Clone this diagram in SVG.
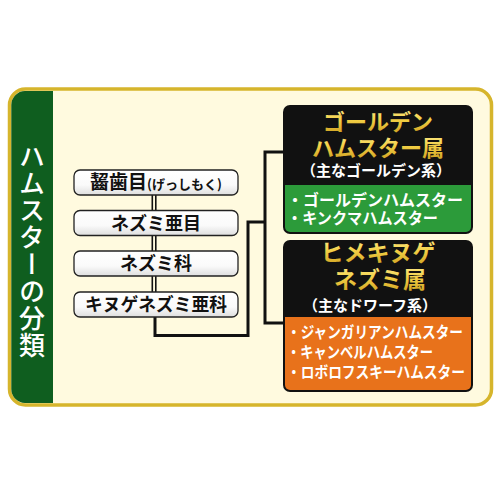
<svg xmlns="http://www.w3.org/2000/svg" width="500" height="500" viewBox="0 0 500 500">
<defs>
<linearGradient id="boxg" x1="0" y1="0" x2="0" y2="1">
<stop offset="0" stop-color="#ffffff"/>
<stop offset="0.6" stop-color="#fafafa"/>
<stop offset="1" stop-color="#dedede"/>
</linearGradient>
<linearGradient id="goldg" x1="0" y1="0" x2="0" y2="1">
<stop offset="0" stop-color="#fff2a0"/>
<stop offset="0.5" stop-color="#f2cf45"/>
<stop offset="1" stop-color="#c99a1c"/>
</linearGradient>
<style>
text{font-family:"Noto Sans CJK JP","Noto Sans CJK SC",sans-serif;font-weight:700}
.lbox{fill:url(#boxg);stroke:#222;stroke-width:1.3}
.ltxt{font-size:18px;fill:#111;text-anchor:middle}
.gold{font-size:22px;fill:url(#goldg);text-anchor:middle}
.gold2{font-size:23px;fill:url(#goldg);text-anchor:middle}
.sub{font-size:15px;fill:#fff;text-anchor:middle}
.item{font-size:16px;fill:#fff}
.con{fill:none;stroke:#111;stroke-width:3}
.dbl{fill:none;stroke:#111;stroke-width:1.6}
</style>
</defs>
<rect width="500" height="500" fill="#ffffff"/>
<g id="frame">
<rect x="9.5" y="89" width="482" height="316" rx="16" fill="#fffadf" stroke="#d6b52c" stroke-width="3.5"/>
<path d="M53,91 H25 A14,14 0 0 0 11.3,105 V389 A14,14 0 0 0 25,403 H53 Z" fill="#0f5e1f"/>
<text x="32" y="251" style="writing-mode:vertical-rl;font-weight:500" font-size="26" fill="#ffffff" text-anchor="middle" letter-spacing="1">ハムスターの分類</text>
</g>
<g id="connectors">
<line class="dbl" x1="152.3" y1="195" x2="152.3" y2="292"/>
<line class="dbl" x1="155.8" y1="195" x2="155.8" y2="292"/>
<path class="con" d="M155,317 V335.5 H248 V222 H265"/>
<path class="con" d="M284,152 H265 V323 H284"/>
</g>
<g id="n1">
<rect class="lbox" x="74" y="170" width="164" height="25" rx="6"/>
<text class="ltxt" x="156" y="189"><tspan font-size="19">齧歯目</tspan><tspan font-size="13">(げっしもく)</tspan></text>
</g>
<g id="n2">
<rect class="lbox" x="74" y="210.5" width="164" height="25" rx="6"/>
<text class="ltxt" x="156" y="229.5">ネズミ亜目</text>
</g>
<g id="n3">
<rect class="lbox" x="74" y="251" width="164" height="25" rx="6"/>
<text class="ltxt" x="156" y="270">ネズミ科</text>
</g>
<g id="n4">
<rect class="lbox" x="74" y="292" width="164" height="25" rx="6"/>
<text class="ltxt" x="156" y="311" textLength="142" lengthAdjust="spacingAndGlyphs">キヌゲネズミ亜科</text>
</g>
<g id="golden">
<rect x="283" y="105" width="190" height="129" rx="7" fill="#111"/>
<path d="M285,185 H471 V227 A5,5 0 0 1 466,232 H290 A5,5 0 0 1 285,227 Z" fill="#2c9b3a"/>
<text class="gold" x="378" y="130">ゴールデン</text>
<text class="gold" x="378" y="156">ハムスター属</text>
<text class="sub" x="376" y="175.5">（主なゴールデン系）</text>
<text class="item" x="287" y="206" textLength="176" lengthAdjust="spacingAndGlyphs">・ゴールデンハムスター</text>
<text class="item" x="287" y="224" textLength="151" lengthAdjust="spacingAndGlyphs">・キンクマハムスター</text>
</g>
<g id="dwarf">
<rect x="283" y="240" width="190" height="152" rx="7" fill="#111"/>
<path d="M285,317 H471 V385 A5,5 0 0 1 466,390 H290 A5,5 0 0 1 285,385 Z" fill="#e8721b"/>
<text class="gold2" x="378" y="261">ヒメキヌゲ</text>
<text class="gold2" x="380" y="288">ネズミ属</text>
<text class="sub" x="370" y="310.5">（主なドワーフ系）</text>
<text class="item" x="287" y="338" textLength="176" lengthAdjust="spacingAndGlyphs">・ジャンガリアンハムスター</text>
<text class="item" x="287" y="358" textLength="146" lengthAdjust="spacingAndGlyphs">・キャンベルハムスター</text>
<text class="item" x="287" y="378" textLength="178" lengthAdjust="spacingAndGlyphs">・ロボロフスキーハムスター</text>
</g>
</svg>
